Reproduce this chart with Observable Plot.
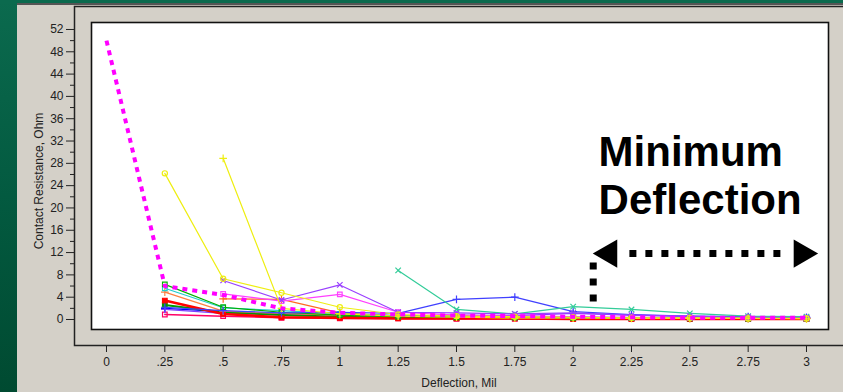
<!DOCTYPE html>
<html><head><meta charset="utf-8">
<script src="https://cdn.jsdelivr.net/npm/d3@7"></script>
<script src="https://cdn.jsdelivr.net/npm/@observablehq/plot@0.6"></script>
<style>
html,body{margin:0;padding:0}
body{width:843px;height:392px;overflow:hidden;background:#d4d0c8;position:relative;font-family:"Liberation Sans",Arial,sans-serif}
#chart{position:absolute;left:0;top:0}
#greenL{position:absolute;left:0;top:0;width:17px;height:392px;background:linear-gradient(180deg,#0b6a4e 0%,#035a40 50%,#004a31 100%)}
#greenT{position:absolute;left:0;top:0;width:843px;height:3px;background:#0b6a4e}
#panelTop{position:absolute;left:17px;top:3px;width:826px;height:2px;background:#555}
</style></head>
<body>
<div id="chart"></div>
<div id="greenL"></div><div id="greenT"></div><div id="panelTop"></div>
<script>
// ---- data ----
const deflection = [0, 0.25, 0.5, 0.75, 1, 1.25, 1.5, 1.75, 2, 2.25, 2.5, 2.75, 3];
const xTickLabels = ["0", ".25", ".5", ".75", "1", "1.25", "1.5", "1.75", "2", "2.25", "2.5", "2.75", "3"];
const yMajorTicks = [0, 4, 8, 12, 16, 20, 24, 28, 32, 36, 40, 44, 48, 52];
const yMinorTicks = [2, 6, 10, 14, 18, 22, 26, 30, 34, 38, 42, 46, 50];

const crimsonRes   = [null, 0.9, 0.6, 0.3, 0.2, 0.2, 0.1, 0.1, 0.1, 0.1, 0.1, 0.1, 0.1];
const redRes       = [null, 3.4, 1.0, 0.4, 0.3, 0.2, 0.2, 0.2, 0.1, 0.1, 0.1, 0.1, 0.1];
const darkGreenRes = [null, 2.6, 1.3, 0.8, 0.5, 0.4, 0.3, 0.3, 0.2, 0.2, 0.2, 0.1, 0.1];
const navyRes      = [null, 2.0, 1.4, 1.0, 0.9, 0.7, 0.5, 0.5, 0.4, 0.3, 0.3, 0.2, 0.2];
const purpleLowRes = [null, 1.8, 1.1, 0.9, 0.8, 0.6, 0.8, 0.7, 1.1, 0.8, 0.5, 0.4, 0.3];
const orangeRes    = [null, 4.9, 1.5, 1.1, 0.8, 0.6, 0.5, 0.4, 0.3, 0.3, 0.2, 0.2, 0.2];
const orangePlusRes= [null, null, 3.7, 3.6, 1.2, 0.6, 0.4, 0.3, 0.3, 0.3, 0.2, 0.2, 0.2];
const cyanRes      = [null, 5.6, 2.1, 1.6, 1.0, 0.7, 0.5, 0.4, 0.4, 0.3, 0.3, 0.2, 0.2];
const greenRes     = [null, 6.3, 2.2, 1.3, 0.8, 0.5, 0.4, 0.4, 0.3, 0.3, 0.2, 0.2, 0.2];
const blueRes      = [null, 2.2, 1.6, 1.2, 1.3, 1.1, 3.6, 4.0, 1.4, 0.9, 0.6, 0.5, 0.4];
const tealRes      = [null, null, null, null, null, 8.8, 1.8, 1.0, 2.3, 1.8, 1.1, 0.6, 0.5];
const pinkRes      = [null, null, 4.6, 3.3, 4.5, 1.3, 0.8, 0.6, 0.5, 0.4, 0.3, 0.3, 0.2];
const violetRes    = [null, null, 7.0, 3.5, 6.2, 1.3, 1.2, 1.0, 1.2, 0.8, 0.6, 0.4, 0.3];
const yellowCircRes= [null, 26.2, 7.3, 4.8, 2.2, 0.9, 0.6, 0.5, 0.4, 0.3, 0.3, 0.2, 0.2];
const yellowPlusRes= [null, null, 28.9, 2.0, 1.0, 0.6, 0.4, 0.3, 0.3, 0.2, 0.2, 0.2, 0.1];
const magentaRes   = [50, 6.0, 4.4, 2.0, 1.2, 0.9, 0.7, 0.6, 0.5, 0.4, 0.3, 0.3, 0.3];

const annotationLines = ["Minimum", "Deflection"];
const yAxisTitle = "Contact Resistance, Ohm";
const xAxisTitle = "Deflection, Mil";

// ---- styles ----
const seriesStyles = [
  {v: crimsonRes,    color: "#ff0066", w: 1.5, sym: "square"},
  {v: navyRes,       color: "#0000ff", w: 1.2, sym: "plus"},
  {v: purpleLowRes,  color: "#7f3fff", w: 1.2, sym: "plus"},
  {v: darkGreenRes,  color: "#009900", w: 2,   sym: "square"},
  {v: redRes,        color: "#ff0000", w: 2.5, sym: "square"},
  {v: orangeRes,     color: "#ff8040", w: 1.2, sym: "plus"},
  {v: orangePlusRes, color: "#ff6a20", w: 1.2, sym: "plus"},
  {v: cyanRes,       color: "#22cccc", w: 1.2, sym: "square"},
  {v: greenRes,      color: "#00b000", w: 1.2, sym: "square"},
  {v: blueRes,       color: "#4040ff", w: 1.2, sym: "plus"},
  {v: tealRes,       color: "#33cc99", w: 1.2, sym: "times"},
  {v: pinkRes,       color: "#ff40ff", w: 1.2, sym: "square"},
  {v: violetRes,     color: "#9a40ff", w: 1.2, sym: "times"},
  {v: yellowCircRes, color: "#eeee10", w: 1.2, sym: "circle"},
  {v: yellowPlusRes, color: "#eeee10", w: 1.2, sym: "plus"}
];

const rows = vals => deflection.map((x, i) => ({x, y: vals[i]})).filter(d => d.y != null);

const marks = [
  Plot.frame({stroke: "#222", strokeWidth: 1.5, insetRight: -6}),
  Plot.frame({fill: "white", stroke: "#111", strokeWidth: 1.6, insetLeft: 17, insetTop: 16, insetRight: 15, insetBottom: 16}),
  Plot.axisY({ticks: yMajorTicks, tickSize: 8, tickPadding: 3, label: null}),
  Plot.axisY({ticks: yMinorTicks, tickSize: 4, tickFormat: () => "", label: null}),
  Plot.axisX({ticks: deflection, tickFormat: d => xTickLabels[deflection.indexOf(d)], tickSize: 7, tickPadding: 5, label: xAxisTitle, labelAnchor: "center", labelOffset: 41, labelArrow: "none"}),
  Plot.text([yAxisTitle], {frameAnchor: "left", text: d => d, rotate: -90, dx: -35, dy: 5, textAnchor: "middle", lineAnchor: "middle", fontSize: 12, fill: "#222"})
];

for (const s of seriesStyles) {
  const data = rows(s.v);
  marks.push(Plot.line(data, {x: "x", y: "y", stroke: s.color, strokeWidth: s.w}));
  marks.push(Plot.dot(data, {x: "x", y: "y", symbol: s.sym, r: 2.6, stroke: s.color, strokeWidth: 1.2, fill: s.sym === "square" && s.w > 1.5 ? s.color : "none"}));
}
marks.push(Plot.line(rows(magentaRes), {x: "x", y: "y", stroke: "#ff00ff", strokeWidth: 4, strokeDasharray: "5,5", strokeLinecap: "butt"}));

// annotation (data coordinates)
marks.push(Plot.text([annotationLines[0]], {x: 2.109, y: 27.6, text: d => d, textAnchor: "start", lineAnchor: "bottom", fontSize: 42, fontWeight: "bold", fill: "black", fontFamily: "Liberation Sans, Arial, sans-serif"}));
marks.push(Plot.text([annotationLines[1]], {x: 2.109, y: 19.0, text: d => d, textAnchor: "start", lineAnchor: "bottom", fontSize: 42, fontWeight: "bold", fill: "black", fontFamily: "Liberation Sans, Arial, sans-serif"}));
marks.push(Plot.line([{x: 2.241, y: 11.83}, {x: 2.889, y: 11.83}], {x: "x", y: "y", stroke: "black", strokeWidth: 7, strokeDasharray: "7,9", strokeLinecap: "butt"}));
marks.push(Plot.line([{x: 2.086, y: 10.22}, {x: 2.086, y: 3.23}], {x: "x", y: "y", stroke: "black", strokeWidth: 7, strokeDasharray: "7,9", strokeLinecap: "butt"}));
marks.push(Plot.dot([{x: 2.154, y: 11.83}], {x: "x", y: "y", symbol: "triangle2", rotate: -90, r: 13.5, fill: "black", stroke: "none"}));
marks.push(Plot.dot([{x: 2.980, y: 11.83}], {x: "x", y: "y", symbol: "triangle2", rotate: 90, r: 13.5, fill: "black", stroke: "none"}));

const chart = Plot.plot({
  width: 843, height: 392,
  marginLeft: 74, marginRight: 0, marginTop: 6, marginBottom: 47,
  x: {domain: [-0.1371, 3.1586]},
  y: {domain: [-4.662, 56.12]},
  style: {background: "transparent", fontFamily: "Liberation Sans, Arial, sans-serif", fontSize: "12px", color: "#222"},
  marks
});
document.getElementById("chart").appendChild(chart);
</script>
</body></html>
